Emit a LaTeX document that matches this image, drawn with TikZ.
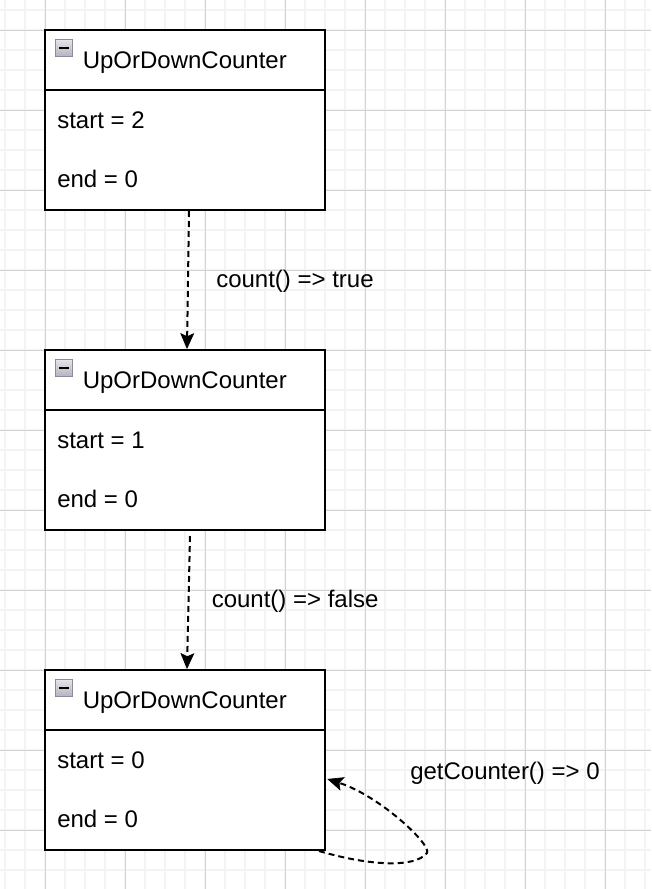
\documentclass[tikz,border=0pt]{standalone}
\usepackage{fontspec}
\setmainfont{Liberation Sans}
\usetikzlibrary{arrows.meta}
\definecolor{minorgrid}{HTML}{F3F3F3}
\definecolor{majorgrid}{HTML}{D3D3D3}
\definecolor{iconborder}{HTML}{8C8C9C}
\definecolor{icontop}{HTML}{E4E4EA}
\definecolor{iconbot}{HTML}{B4B4BE}
\tikzset{
  classbox/.style={draw=black, line width=1.5pt, minimum width=210pt, minimum height=135pt, inner sep=0pt, fill=white},
  lbl/.style={anchor=base west, inner sep=0pt, font=\fontsize{18pt}{21pt}\selectfont, text=black},
  link/.style={line width=1.5pt, dash pattern=on 4.5pt off 3pt, -{Stealth[length=12pt,width=10.5pt,inset=2.5pt,line width=0.5pt]}},
}
\begin{document}
\begin{tikzpicture}[x=0.75pt,y=-0.75pt]
\useasboundingbox (0,0) rectangle (651,889);
\fill[white] (0,0) rectangle (651,889);
% grid
\foreach \gx in {5,25,...,645} \draw[minorgrid, line width=1.2pt] (\gx,0) -- (\gx,889);
\foreach \gy in {10,30,...,889} \draw[minorgrid, line width=1.2pt] (0,\gy) -- (651,\gy);
\foreach \gx in {45,125,...,645} \draw[majorgrid, line width=0.75pt] (\gx,0) -- (\gx,889);
\foreach \gy in {30,110,...,889} \draw[majorgrid, line width=0.75pt] (0,\gy) -- (651,\gy);

% class boxes
\foreach \n/\top/\sv in {c1/30/2, c2/350/1, c3/670/0}{
  \node[classbox] (\n) at (185,\top+90) {};
  \draw[line width=1.5pt] (45,\top+60) -- (325,\top+60);
  \draw[iconborder, line width=0.9pt, top color=icontop, bottom color=iconbot] (55.5,\top+9.5) rectangle (72.5,\top+26.5);
  \draw[black, line width=2.2pt] (59,\top+18) -- (69,\top+18);
  \node[lbl] (\n h) at (82.5,\top+38) {UpOrDownCounter};
  \node[lbl] (\n s) at (57,\top+98) {start = \sv};
  \node[lbl] (\n e) at (57,\top+157) {end = 0};
}

% connectors
\draw[link] ([xshift=3pt]c1.south) -- ([xshift=1.5pt]c2.north);
\node[lbl] (l1) at (216,287) {count() => true};
\draw[link] ([xshift=3.75pt,yshift=-3.75pt]c2.south) -- ([xshift=1.5pt]c3.north);
\node[lbl] (l2) at (211.5,607) {count() => false};
\coordinate (turn) at (427,853);
\draw[link] ([xshift=-5.25pt]c3.south east) .. controls (370,866) and (415,868) .. (turn)
  .. controls (432,845) and (380,796) .. ([xshift=1pt,yshift=-14.25pt]c3.east);
\node[lbl] (l3) at (410,779) {getCounter() => 0};
\end{tikzpicture}
\end{document}
